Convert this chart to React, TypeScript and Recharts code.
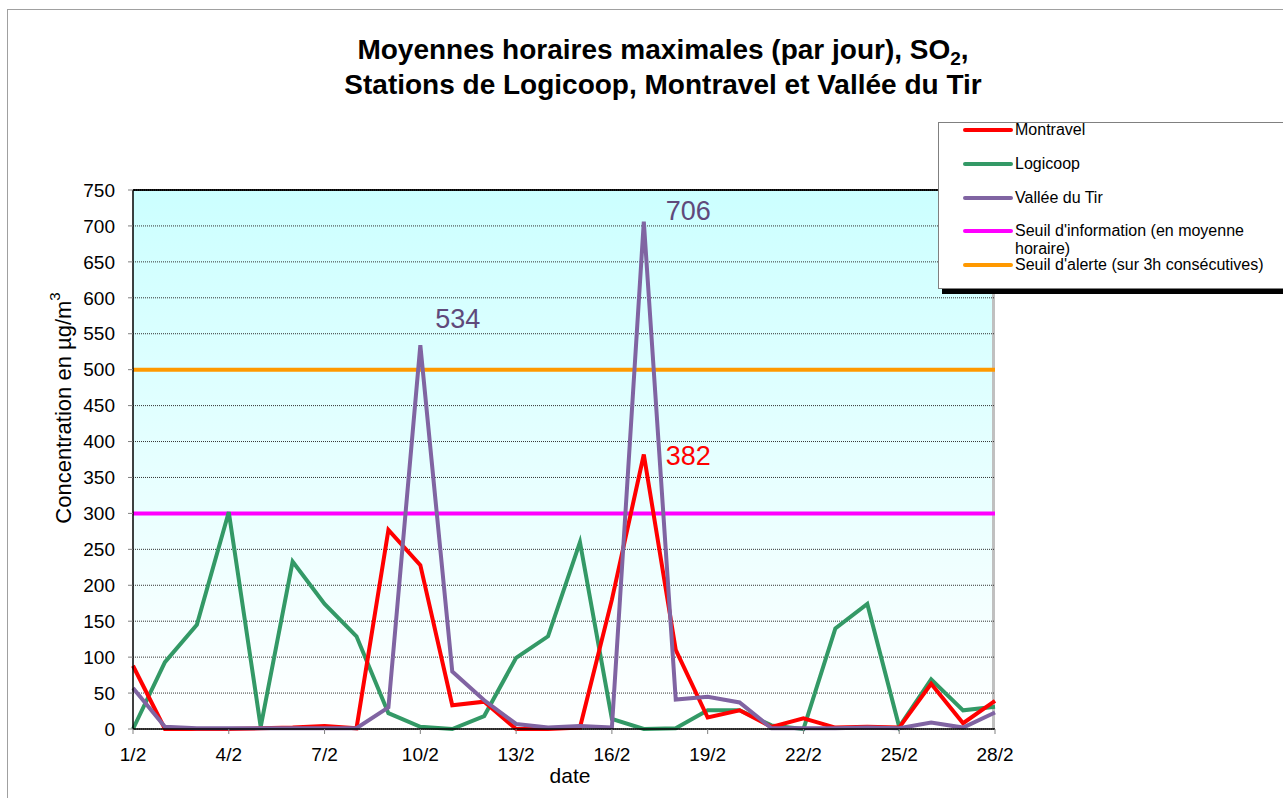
import React from 'react';
import { LineChart, Line, XAxis, YAxis, CartesianGrid, ReferenceLine, Legend } from 'recharts';

const dates = ['1/2','2/2','3/2','4/2','5/2','6/2','7/2','8/2','9/2','10/2','11/2','12/2','13/2','14/2','15/2','16/2','17/2','18/2','19/2','20/2','21/2','22/2','23/2','24/2','25/2','26/2','27/2','28/2'];
const montravel = [88,0,0,0,1,2,4,1,277,228,33,38,0,0,2,180,382,110,16,26,3,15,2,3,2,63,8,39];
const logicoop = [0,93,145,302,3,233,174,129,22,3,0,18,99,129,260,14,0,1,26,26,5,0,140,174,3,69,26,31];
const vallee = [57,3,1,1,1,1,1,1,30,534,80,40,7,2,4,2,706,41,45,37,1,1,1,2,1,9,2,23];
const yTicks = [0,50,100,150,200,250,300,350,400,450,500,550,600,650,700,750];
const seuilInformation = 300;
const seuilAlerte = 500;

const data = dates.map((d, i) => ({ date: d, montravel: montravel[i], logicoop: logicoop[i], vallee: vallee[i] }));

const FONT = '"Liberation Sans", Arial, sans-serif';
const COLORS = { montravel: '#ff0000', logicoop: '#339966', vallee: '#8064a2', info: '#ff00ff', alerte: '#ff9900' };

const legendItems = [
  { label: 'Montravel', color: COLORS.montravel, top: 7 },
  { label: 'Logicoop', color: COLORS.logicoop, top: 41 },
  { label: 'Vallée du Tir', color: COLORS.vallee, top: 75 },
  { label: "Seuil d'information (en moyenne horaire)", color: COLORS.info, top: 108 },
  { label: "Seuil d'alerte (sur 3h consécutives)", color: COLORS.alerte, top: 142 },
];

const peakLabel = (peakIndex: number, color: string, dx: number, dy: number) => (props: any) => {
  const { x, y, index, value } = props;
  if (index !== peakIndex) return <g />;
  return (
    <text x={x + dx} y={y + dy} fill={color} fontSize={27} fontFamily={FONT}>{value}</text>
  );
};

const LegendBox = () => (
  <div style={{ position: 'relative', width: 370, height: 167, border: '1px solid #808080', background: '#fff', boxShadow: '4px 5px 0 0 #000', fontFamily: FONT, fontSize: 16, color: '#000', boxSizing: 'border-box' }}>
    {legendItems.map((it) => (
      <div key={it.label} style={{ position: 'absolute', left: 0, top: it.top - 9, width: 370 }}>
        <div style={{ position: 'absolute', left: 24, top: 7, width: 50, height: 4, borderRadius: 2, background: it.color }} />
        <div style={{ position: 'absolute', left: 76, top: 0, width: 262, lineHeight: '18px', whiteSpace: 'normal' }}>{it.label}</div>
      </div>
    ))}
  </div>
);

const YLabel = (props: any) => {
  const cx = 63;
  const cy = 408;
  return (
    <text x={cx} y={cy} transform={`rotate(-90, ${cx}, ${cy})`} textAnchor="middle" dominantBaseline="central" fontSize={22} fontFamily={FONT} fill="#000">
      Concentration en µg/m<tspan fontSize={15} dy={-9}>3</tspan>
    </text>
  );
};

const XLabel = (props: any) => {
  const vb = props.viewBox || { x: 133, y: 729, width: 862, height: 69 };
  return (
    <text x={vb.x + vb.width / 2 + 6} y={783} textAnchor="middle" fontSize={21} fontFamily={FONT} fill="#000">date</text>
  );
};

export default function App() {
  return (
    <div style={{ position: 'absolute', left: 0, top: 0, width: 1283, height: 798, overflow: 'hidden', background: '#fff', fontFamily: FONT }}>
      <div style={{ position: 'absolute', left: 7, top: 9, width: 1300, height: 820, borderLeft: '1px solid #a0a0a0', borderTop: '1px solid #a0a0a0' }} />
      <div style={{ position: 'absolute', left: 43, top: 32, width: 1240, textAlign: 'center', fontWeight: 'bold', fontSize: 28, lineHeight: '35px', color: '#000' }}>
        <div>Moyennes horaires maximales (par jour), SO<sub style={{ fontSize: 19, verticalAlign: -6, lineHeight: 0 }}>2</sub>,</div>
        <div>Stations de Logicoop, Montravel et Vallée du Tir</div>
      </div>
      <div style={{ position: 'absolute', left: 133, top: 189, width: 862, height: 540, background: 'linear-gradient(to bottom, #ccffff 0%, #ffffff 100%)', borderTop: '2px solid #000', borderRight: '3px solid #c0c0c0', boxSizing: 'border-box' }} />
      <div style={{ position: 'absolute', left: 0, top: 0 }}>
        <LineChart width={1283} height={798} data={data} margin={{ top: 190, right: 288, bottom: 0, left: 0 }}>
          <CartesianGrid vertical={false} stroke="#333" strokeDasharray="1 1" />
          <XAxis dataKey="date" interval={2} height={69} tick={{ fontSize: 19, fill: '#000', fontFamily: FONT }} tickSize={5} tickMargin={14} axisLine={{ stroke: '#000', strokeWidth: 1.5 }} tickLine={{ stroke: '#808080' }} label={XLabel} />
          <YAxis width={133} domain={[0, 750]} ticks={yTicks} interval={0} tick={{ fontSize: 19, fill: '#000', fontFamily: FONT }} tickSize={5} tickMargin={13} axisLine={{ stroke: '#000', strokeWidth: 1.5 }} tickLine={{ stroke: '#808080' }} label={YLabel} />
          <ReferenceLine y={seuilInformation} stroke={COLORS.info} strokeWidth={4} />
          <ReferenceLine y={seuilAlerte} stroke={COLORS.alerte} strokeWidth={4} />
          <Line type="linear" dataKey="logicoop" name="Logicoop" stroke={COLORS.logicoop} strokeWidth={4} dot={false} isAnimationActive={false} />
          <Line type="linear" dataKey="montravel" name="Montravel" stroke={COLORS.montravel} strokeWidth={4} dot={false} isAnimationActive={false} label={peakLabel(16, '#ff0000', 22, 11)} />
          <Line type="linear" dataKey="vallee" name="Vallée du Tir" stroke={COLORS.vallee} strokeWidth={4} dot={false} isAnimationActive={false} label={(props: any) => {
            if (props.index === 9) return peakLabel(9, '#604a7b', 15, -17)(props);
            if (props.index === 16) return peakLabel(16, '#604a7b', 22, -2)(props);
            return <g />;
          }} />
          <Legend layout="horizontal" verticalAlign="middle" align="center" content={LegendBox} wrapperStyle={{ position: 'absolute', left: 938, top: 122, width: 370, height: 167, margin: 0, padding: 0 }} />
        </LineChart>
      </div>
    </div>
  );
}
